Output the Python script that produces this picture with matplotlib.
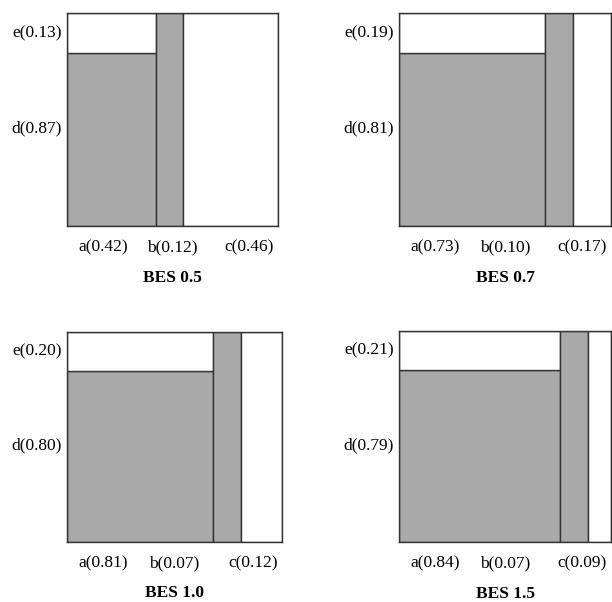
import matplotlib.pyplot as plt
from matplotlib.patches import Rectangle

plt.rcParams['font.family'] = ['Liberation Serif', 'DejaVu Serif']

# stated shares (labels)
titles = ["BES 0.5", "BES 0.7", "BES 1.0", "BES 1.5"]
a_vals = [0.42, 0.73, 0.81, 0.84]
b_vals = [0.12, 0.10, 0.07, 0.07]
c_vals = [0.46, 0.17, 0.12, 0.09]
d_vals = [0.87, 0.81, 0.80, 0.79]
e_vals = [0.13, 0.19, 0.20, 0.21]

# widths / heights as drawn in the figure
a_drawn = [0.42, 0.69, 0.68, 0.76]
b_drawn = [0.13, 0.13, 0.13, 0.13]
d_drawn = [0.81, 0.81, 0.815, 0.815]

gray = "#a9a9a9"
edge = "#333333"

fig = plt.figure(figsize=(6.12, 6.02), dpi=100)
W, H = 612, 602
# panel boxes in pixels: left, top, width, height
boxes = [(67, 13, 211, 213), (399, 13, 212, 213),
         (67, 332, 215, 210), (399, 331, 212, 211)]

for i, (l, t, w, h) in enumerate(boxes):
    ax = fig.add_axes([l / W, 1 - (t + h) / H, w / W, h / H])
    ax.set_xlim(0, 1)
    ax.set_ylim(0, 1)
    aw, bw, dh = a_drawn[i], b_drawn[i], d_drawn[i]
    ax.add_patch(Rectangle((0, 0), aw, dh, fc=gray, ec=edge, lw=1))
    ax.add_patch(Rectangle((0, dh), aw, 1 - dh, fc="white", ec=edge, lw=1))
    ax.add_patch(Rectangle((aw, 0), bw, 1, fc=gray, ec=edge, lw=1))
    ax.add_patch(Rectangle((aw + bw, 0), 1 - aw - bw, 1, fc="white", ec=edge, lw=1))
    for s in ax.spines.values():
        s.set_color(edge)
        s.set_linewidth(1)
    ax.set_xticks([])
    ax.set_yticks([])

    fs = 12.5
    ax.text(-0.025, dh + (1 - dh) / 2, f"e({e_vals[i]:.2f})", ha="right", va="center",
            fontsize=fs, transform=ax.transAxes)
    ax.text(-0.025, 0.46, f"d({d_vals[i]:.2f})", ha="right", va="center",
            fontsize=fs, transform=ax.transAxes)
    ax.text(0.17, -0.1, f"a({a_vals[i]:.2f})", ha="center", va="center",
            fontsize=fs, transform=ax.transAxes)
    ax.text(0.50, -0.1, f"b({b_vals[i]:.2f})", ha="center", va="center",
            fontsize=fs, transform=ax.transAxes)
    ax.text(0.865, -0.1, f"c({c_vals[i]:.2f})", ha="center", va="center",
            fontsize=fs, transform=ax.transAxes)
    ax.text(0.5, -0.245, titles[i], ha="center", va="center", fontsize=fs,
            fontweight="bold", transform=ax.transAxes)

fig.savefig("out.png", dpi=100)
